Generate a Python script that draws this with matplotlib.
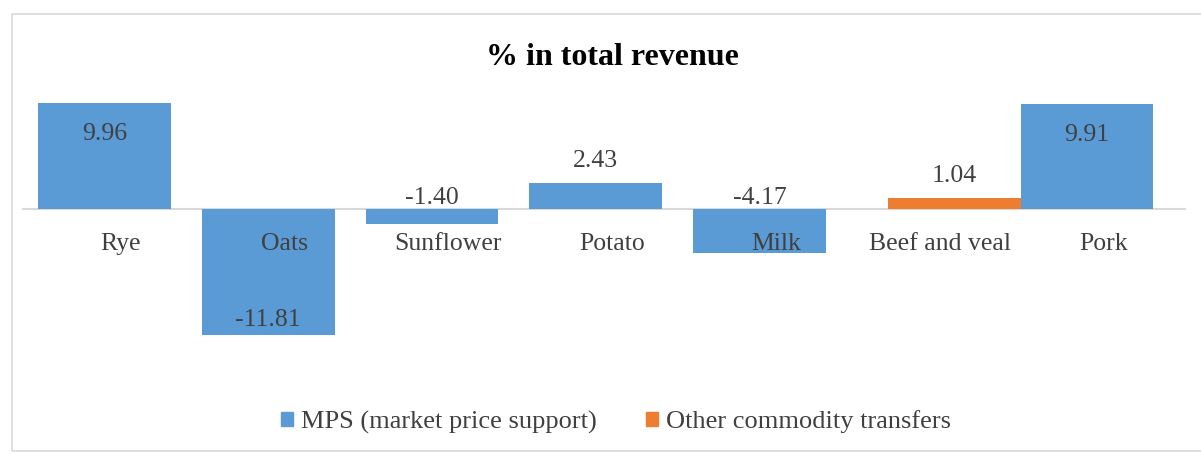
import numpy as np
import matplotlib
matplotlib.use("Agg")
import matplotlib.pyplot as plt
from matplotlib.patches import Patch, Rectangle

plt.rcParams["font.family"] = ["Liberation Serif", "DejaVu Serif"]

categories = ["Rye", "Oats", "Sunflower", "Potato", "Milk", "Beef and veal", "Pork"]
mps = [9.96, -11.81, -1.40, 2.43, -4.17, np.nan, 9.91]
other_transfers = [np.nan, np.nan, np.nan, np.nan, np.nan, 1.04, np.nan]
series_names = ["MPS (market price support)", "Other commodity transfers"]

BLUE = "#5B9BD5"
ORANGE = "#ED7D31"
TEXT = "#404040"
GRID = "#D9D9D9"

W, H = 1201, 454
fig = plt.figure(figsize=(W / 100, H / 100), dpi=100)

# outer chart frame
fig.add_artist(Rectangle((12 / W, 1 - 451 / H), 1200 / W, (451 - 14) / H,
                         transform=fig.transFigure, fill=False,
                         ec=GRID, lw=1.2))

ax = fig.add_axes([22 / W, 1 - 370 / H, (1186 - 22) / W, (370 - 90) / H])
ax.set_xlim(-0.504, 6.605)
ax.set_ylim(-15.13, 11.18)
ax.axis("off")
ax.axhline(0, color=GRID, lw=1.5, zorder=1)

x = np.arange(len(categories))
width = 0.81
other_shift = 0.19

ax.bar(x, mps, width=width, color=BLUE, zorder=2)
ax.bar(x + other_shift, other_transfers, width=width, color=ORANGE, zorder=2)


def label_bar(xpos, v):
    if abs(v) > 5:
        dy = -37 if v > 0 else 9
        y = v
    elif v > 0:
        dy, y = 16, v
    else:
        dy, y = 5, 0
    ax.annotate(f"{v:.2f}", xy=(xpos, y), xytext=(0, dy),
                textcoords="offset pixels", ha="center", va="baseline",
                fontsize=18.5, color=TEXT, zorder=4)


for xi, v in zip(x, mps):
    if not np.isnan(v):
        label_bar(xi, v)
for xi, v in zip(x, other_transfers):
    if not np.isnan(v):
        label_bar(xi + other_shift, v)

# category names sit just below the zero line, over the bars
for xi, name in zip(x, categories):
    ax.annotate(name, xy=(xi + 0.1, 0), xytext=(0, -41),
                textcoords="offset pixels", ha="center", va="baseline",
                fontsize=18.5, color=TEXT, zorder=4)

fig.text(612 / W, 1 - 65 / H, "% in total revenue", ha="center",
         va="baseline", fontsize=23, fontweight="bold", color="black")

handles = [Patch(color=BLUE), Patch(color=ORANGE)]
fig.legend(handles, series_names, loc="center", ncol=2,
           bbox_to_anchor=(616 / W, 1 - 422 / H), frameon=False,
           fontsize=19, handlelength=0.45, handleheight=0.45,
           handletextpad=0.3, columnspacing=1.9, labelcolor=TEXT)

fig.savefig("out.png", dpi=100, facecolor="white")
